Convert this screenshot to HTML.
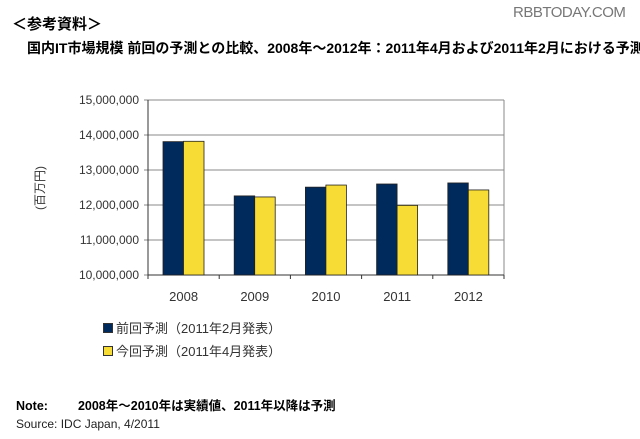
<!DOCTYPE html>
<html><head><meta charset="utf-8"><style>
body{margin:0;width:640px;height:439px;background:#fff;overflow:hidden;font-family:"Liberation Sans","Noto Sans CJK JP",sans-serif;}
.t{position:absolute;white-space:nowrap;}
</style></head><body>
<div class="t" style="left:513px;top:4px;font-size:15px;color:#777;letter-spacing:-0.5px">RBBTODAY.COM</div>
<div class="t" style="left:12px;top:13px;font-size:15px;font-weight:bold">＜参考資料＞</div>
<div class="t" style="left:27px;top:38px;font-size:14px;font-weight:bold;letter-spacing:0px">国内IT市場規模 前回の予測との比較、2008年～2012年：2011年4月および2011年2月における予測</div>
<svg width="640" height="439" style="position:absolute;left:0;top:0">
<g id="g"></g>
<text x="44" y="188" transform="rotate(-90 44 188)" text-anchor="middle" font-size="12" fill="#333" font-family="Liberation Sans,Noto Sans CJK JP,sans-serif">(百万円)</text>
</svg>
<div class="t" style="left:103px;top:318px;font-size:13px;color:#333"><span style="display:inline-block;width:8px;height:8px;background:#002a5c;border:1px solid #333;margin-right:3px"></span>前回予測（2011年2月発表）</div>
<div class="t" style="left:103px;top:341px;font-size:13px;color:#333"><span style="display:inline-block;width:8px;height:8px;background:#f7dc35;border:1px solid #333;margin-right:3px"></span>今回予測（2011年4月発表）</div>
<div class="t" style="left:16px;top:395px;font-size:12.5px;font-weight:bold">Note:<span style="display:inline-block;width:30px"></span>2008年～2010年は実績値、2011年以降は予測</div>
<div class="t" style="left:16px;top:417px;font-size:12px;color:#222">Source: IDC Japan, 4/2011</div>
<script>
const categories=["2008","2009","2010","2011","2012"];
const previous=[13810000,12260000,12510000,12600000,12630000];
const current=[13820000,12230000,12570000,11990000,12430000];
const yTicks=[10000000,11000000,12000000,13000000,14000000,15000000];
const yTickLabels=["10,000,000","11,000,000","12,000,000","13,000,000","14,000,000","15,000,000"];
const X0=148,X1=504,Y0=275,Y1=100,ymin=10000000,ymax=15000000;
const cw=(X1-X0)/categories.length;
const y=v=>Y0-(v-ymin)/(ymax-ymin)*(Y0-Y1);
const x=i=>X0+i*cw;
const g=document.getElementById('g');
const NS="http://www.w3.org/2000/svg";
function mk(t,a){const e=document.createElementNS(NS,t);for(const k in a)e.setAttribute(k,a[k]);g.appendChild(e);return e;}
yTicks.forEach((t,i)=>{
 const l=mk('line',{x1:X0-4,x2:X1,y1:y(t),y2:y(t),stroke:'#888','stroke-width':1});
 
 
 const tx=mk('text',{x:139,y:y(t)+4,'text-anchor':'end','font-size':12,fill:'#333'});
 tx.textContent=yTickLabels[i];
 
 
});
mk('line',{x1:X1,x2:X1,y1:Y1,y2:Y0,stroke:'#888'});
mk('line',{x1:X0,x2:X0,y1:Y1,y2:Y0,stroke:'#333'});
mk('line',{x1:X0,x2:X1,y1:Y0,y2:Y0,stroke:'#333'});
categories.forEach((c,i)=>{
 mk('line',{x1:x(i),x2:x(i),y1:Y0,y2:Y0+4,stroke:'#333'});
 const bw=20.5,bx=x(i)+15;
 const b1=mk('rect',{x:bx,y:y(previous[i]),width:bw,height:Y0-y(previous[i]),fill:'#002a5c',stroke:'#222','stroke-width':0.8});
 
 
 const b2=mk('rect',{x:bx+bw,y:y(current[i]),width:bw,height:Y0-y(current[i]),fill:'#f7dc35',stroke:'#222','stroke-width':0.8});
 
 
 const tx=mk('text',{x:x(i)+cw/2,y:301,'text-anchor':'middle','font-size':13,fill:'#333'});
 tx.textContent=c;
 
 
});
mk('line',{x1:X1,x2:X1,y1:Y0,y2:Y0+4,stroke:'#333'});
</script>
</body></html>
